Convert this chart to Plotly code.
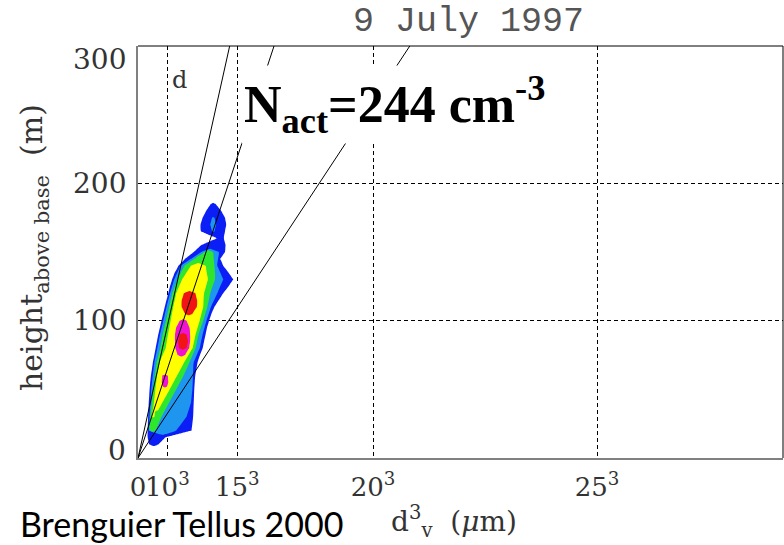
import numpy as np
import plotly.graph_objects as go

# ---------------- data ----------------
x_tickvals = [0, 1000, 3375, 8000, 15625]          # 0, 10^3, 15^3, 20^3, 25^3
x_ticktext = ["0", "10<sup>3</sup>", "15<sup>3</sup>", "20<sup>3</sup>", "25<sup>3</sup>"]
y_tickvals = [0, 100, 200, 300]
y_ticktext = ["0", "100", "200", "300"]
x_range = [0, 21952]                                 # 28^3
y_range = [0, 300]

# reference lines through the origin: d^3 reached at 300 m
line_d3_at_300 = [3120, 4630, 9250]

# contour bands: height (m) -> (left d^3, right d^3) of each coloured level
BLUE = {10: (380, 700), 15: (330, 930), 20: (328, 1820), 25: (335, 1850), 30: (345, 1875),
        35: (355, 1885), 40: (365, 1895), 45: (380, 1905), 50: (395, 1915), 55: (415, 1930),
        60: (440, 1950), 65: (475, 1990), 70: (510, 2030), 75: (555, 2110), 80: (600, 2200),
        85: (645, 2250), 90: (690, 2300), 95: (745, 2350), 100: (800, 2420), 105: (855, 2500),
        110: (910, 2600), 115: (970, 2750), 120: (1030, 2900), 125: (1090, 3080),
        130: (1160, 3240), 135: (1250, 3080), 140: (1380, 2900), 145: (1600, 2800),
        150: (1900, 2960), 155: (2150, 2980), 160: (2680, 2920), 165: (2150, 2960),
        170: (2130, 3000), 175: (2200, 2960), 180: (2320, 2830), 185: (2480, 2640)}
LIGHTBLUE = {20: (370, 1300), 30: (390, 1650), 40: (420, 1800), 50: (450, 1850), 60: (500, 1870),
             70: (560, 1900), 80: (660, 2100), 90: (750, 2200), 100: (860, 2330),
             110: (970, 2480), 120: (1090, 2700), 130: (1230, 2900), 140: (1450, 2700),
             150: (2150, 2750)}
CYAN_DOT = {165: (2520, 2600), 170: (2460, 2660), 175: (2520, 2600)}
GREEN = {20: (400, 600), 30: (420, 800), 40: (470, 1050), 50: (510, 1300), 60: (570, 1550),
         70: (640, 1760), 80: (760, 1960), 90: (840, 2060), 100: (950, 2220), 110: (1060, 2360),
         120: (1170, 2460), 130: (1340, 2620), 140: (1580, 2600), 150: (2250, 2550)}
YELLOW = {30: (470, 560), 40: (540, 820), 50: (590, 1080), 60: (650, 1330), 70: (740, 1580),
          80: (940, 1860), 90: (1020, 1960), 100: (1110, 2100), 110: (1200, 2220),
          120: (1300, 2250), 130: (1500, 2380), 140: (1800, 2300)}
RED = {105: (1600, 1850), 110: (1488, 2000), 115: (1490, 2010), 120: (1560, 1950)}
MAGENTA_LOW = {52: (850, 990), 55: (810, 1030), 60: (830, 1010)}
MAGENTA = {75: (1350, 1600), 80: (1270, 1740), 85: (1260, 1772), 90: (1260, 1772),
           95: (1300, 1750), 100: (1420, 1650)}
RED_CORE = {80: (1400, 1650), 85: (1363, 1704), 90: (1420, 1650)}

level_sets = [BLUE, LIGHTBLUE, CYAN_DOT, GREEN, YELLOW, RED, MAGENTA_LOW, MAGENTA, RED_CORE]
level_colors = ["#0a1ef5", "#1e96f0", "#1e96f0", "#2ee62e", "#ffff00", "#f01414",
                "#f014d2", "#f014d2", "#f01414"]

# ---------------- one field per level: its boundary is the 0.5 crossing ----------------
xs = np.arange(0, 3601, 25, dtype=float)
ramp = 1000.0


def level_field(lev):
    hs = sorted(lev)
    rows = [hs[0] - 10] + hs + [hs[-1] + 10]
    z = np.full((len(rows), len(xs)), -0.5)
    for i, h in enumerate(rows):
        if h in lev:
            L, R = lev[h]
            z[i] = 0.5 + np.minimum(xs - L, R - xs) / ramp
    return rows, z


fig = go.Figure()
for lev, col in zip(level_sets, level_colors):
    rows, z = level_field(lev)
    fig.add_trace(go.Contour(
        x=xs, y=rows, z=z, autocontour=False,
        contours=dict(start=0.5, end=0.5, size=1, coloring="fill", showlines=False),
        colorscale=[[0, "rgba(255,255,255,0)"], [0.5, "rgba(255,255,255,0)"],
                    [0.5, col], [1, col]],
        showscale=False, line=dict(width=0, smoothing=1.3), hoverinfo="skip"))

for d3 in line_d3_at_300:
    fig.add_trace(go.Scatter(x=[0, d3], y=[0, 300], mode="lines",
                             line=dict(color="black", width=1), hoverinfo="skip"))

serif = "DejaVu Serif"
tick_shift = {0: 8, 100: 0, 200: 0, 300: -13}
annotations = [
    dict(text=t, xref="paper", yref="y", x=0, y=v, xanchor="right", yanchor="middle",
         xshift=-10, yshift=tick_shift[v], showarrow=False,
         font=dict(family=serif, size=28, color="#333"))
    for v, t in zip(y_tickvals, y_ticktext)
]
annotations += [
    dict(text="9 July 1997", xref="paper", yref="paper", x=0.512, y=1.058,
         xanchor="center", yanchor="middle", showarrow=False,
         font=dict(family="Liberation Mono", size=35, color="#555")),
    dict(text="<b>N<sub>act</sub>=244 cm<sup>-3</sup></b>", xref="paper", yref="paper",
         x=0.160, y=0.857, xanchor="left", yanchor="middle", showarrow=False,
         bgcolor="white", borderpad=2,
         font=dict(family="Liberation Serif", size=52, color="black")),
    dict(text="d", xref="paper", yref="paper", x=0.065, y=0.917,
         xanchor="center", yanchor="middle", showarrow=False,
         font=dict(family=serif, size=24, color="#333")),
    dict(text="height<sub>above base</sub>  (m)", xref="paper", yref="paper",
         x=-0.161, y=0.51, xanchor="center", yanchor="middle", textangle=-90,
         showarrow=False, font=dict(family=serif, size=30, color="#333")),
    dict(text="d<sup>3</sup><sub>v</sub>  (<i>μ</i>m)", xref="paper", yref="paper",
         x=0.49, y=-0.155, xanchor="center", yanchor="middle", showarrow=False,
         font=dict(family=serif, size=28, color="#333")),
    dict(text="Brenguier Tellus 2000", xref="paper", yref="paper",
         x=0.321, y=-0.2112, xanchor="right", yanchor="bottom", showarrow=False,
         borderpad=0,
         font=dict(family="Lato", size=34, color="black")),
]

fig.update_layout(
    width=784, height=545, showlegend=False,
    margin=dict(l=138, r=1, t=46, b=87),
    paper_bgcolor="white", plot_bgcolor="white",
    xaxis=dict(range=x_range, tickmode="array", tickvals=x_tickvals, ticktext=x_ticktext,
               tickangle=0,
               showgrid=True, gridcolor="black", gridwidth=1, griddash="4px,3px",
               zeroline=False, showline=True, linecolor="#808080", linewidth=2,
               ticks="", ticklabelstandoff=5,
               tickfont=dict(family=serif, size=26, color="#333")),
    yaxis=dict(range=y_range, tickmode="array", tickvals=y_tickvals,
               showticklabels=False,
               showgrid=True, gridcolor="black", gridwidth=1, griddash="4px,3px",
               zeroline=False, showline=True, linecolor="#808080", linewidth=2,
               ticks=""),
    shapes=[
        dict(type="line", xref="paper", yref="paper", x0=0, x1=1, y0=1, y1=1,
             line=dict(color="black", width=1)),
        dict(type="line", xref="paper", yref="paper", x0=1, x1=1, y0=0, y1=1,
             line=dict(color="black", width=1)),
    ],
    annotations=annotations,
)

fig.write_html("out.html")
